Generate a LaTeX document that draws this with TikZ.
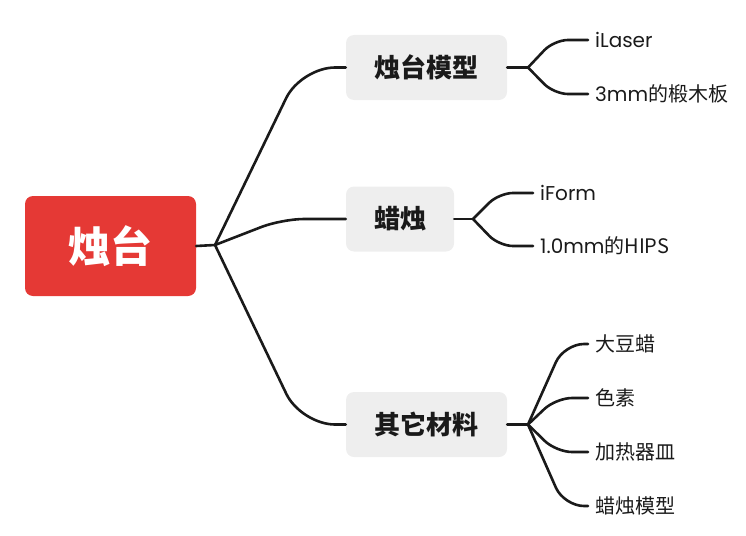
\documentclass[tikz,border=0pt]{standalone}
\usepackage{fontspec}
\setmainfont{Noto Sans CJK SC}
\newfontfamily\cjk{Noto Sans CJK SC}
\newfontfamily\lat{Poppins}
\definecolor{rootred}{HTML}{E53935}
\definecolor{boxgray}{HTML}{EEEEEE}
\definecolor{ink}{HTML}{1A1A1A}
\tikzset{
  rootbox/.style={fill=rootred, rounded corners=8pt, minimum width=171pt, minimum height=100pt, text=white, font=\cjk\bfseries\fontsize{42}{46}\selectfont, inner sep=0pt},
  branchbox/.style={fill=boxgray, rounded corners=8pt, minimum height=65pt, text=ink, font=\cjk\bfseries\fontsize{26}{30}\selectfont, inner sep=0pt},
  leaf/.style={anchor=west, text=ink, font=\cjk\fontsize{20}{24}\selectfont, inner sep=0pt},
  conn/.style={draw=ink, line width=2.6pt, line cap=round, line join=round},
}
\begin{document}
\begin{tikzpicture}[x=1pt,y=-1pt]
\useasboundingbox (0,0) rectangle (746,535);
% root
\node[rootbox] (root) at (110.5,246) {烛台};
% branches
\node[branchbox, minimum width=161pt] (b1) at (426.5,67.5) {烛台模型};
\node[branchbox, minimum width=108pt] (b2) at (400,219) {蜡烛};
\node[branchbox, minimum width=161pt] (b3) at (426.5,424.5) {其它材料};
% leaves
\node[leaf] (l1) at (595,40) {\lat iLaser};
\node[leaf] (l2) at (595,94) {{\lat 3mm}的椴木板};
\node[leaf] (l3) at (540,193) {\lat iForm};
\node[leaf] (l4) at (540,246) {{\lat 1.0mm}的HIPS};
\node[leaf] (l5) at (595,344) {大豆蜡};
\node[leaf] (l6) at (595,398) {色素};
\node[leaf] (l7) at (595,452) {加热器皿};
\node[leaf] (l8) at (595,506) {蜡烛模型};
% junctions
\coordinate (j0) at (215,245);
\coordinate (j1) at (528,67.5);
\coordinate (j2) at (473,219);
\coordinate (j3) at (528,424.5);
% root connectors
\draw[conn] (root.east) -- (j0);
\draw[conn, rounded corners=34pt] (j0) -- (301,67.5) -- (b1.west);
\draw[conn, rounded corners=22pt] (j0) -- (282,219) -- (b2.west);
\draw[conn, rounded corners=34pt] (j0) -- (301,424.5) -- (b3.west);
% branch 1
\draw[conn] (b1.east) -- (j1);
\draw[conn, rounded corners=14pt] (j1) -- (554,40) -- ([xshift=-7pt]l1.west);
\draw[conn, rounded corners=14pt] (j1) -- (554,94) -- ([xshift=-7pt]l2.west);
% branch 2
\draw[conn] (b2.east) -- (j2);
\draw[conn, rounded corners=14pt] (j2) -- (499,193) -- ([xshift=-7pt]l3.west);
\draw[conn, rounded corners=14pt] (j2) -- (499,246) -- ([xshift=-7pt]l4.west);
% branch 3
\draw[conn] (b3.east) -- (j3);
\draw[conn, rounded corners=20pt] (j3) -- (564,344) -- ([xshift=-7pt]l5.west);
\draw[conn, rounded corners=16pt] (j3) -- (556,398) -- ([xshift=-7pt]l6.west);
\draw[conn, rounded corners=16pt] (j3) -- (556,452) -- ([xshift=-7pt]l7.west);
\draw[conn, rounded corners=20pt] (j3) -- (564,506) -- ([xshift=-7pt]l8.west);
\end{tikzpicture}
\end{document}
